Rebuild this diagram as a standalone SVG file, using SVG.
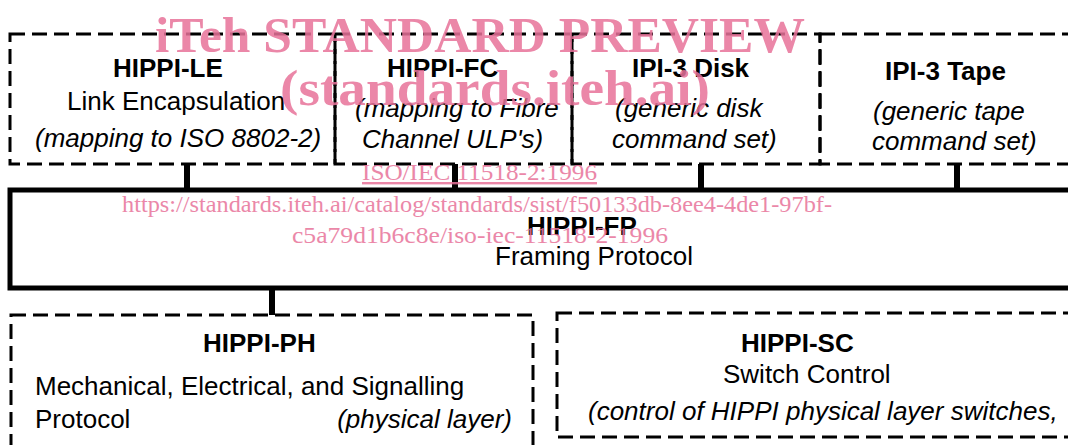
<svg xmlns="http://www.w3.org/2000/svg" width="1068" height="445" viewBox="0 0 1068 445">
<style>
.box{fill:none;stroke:#000;stroke-width:3;stroke-dasharray:15 7}
.solid{fill:none;stroke:#000;stroke-width:5}
.conn{stroke:#000;stroke-width:6}
text{font-family:"Liberation Sans",Arial,sans-serif;font-size:26px;fill:#000}
.b{font-weight:bold}
.i{font-style:italic}
text.wm{font-family:"Liberation Serif","Times New Roman",serif;fill:#e8739a;opacity:0.85}
text.big{font-size:50px;font-weight:bold}
text.sm{font-size:24px}
</style>
<rect width="1068" height="445" fill="#fff"/>
<g id="connectors">
<line class="conn" x1="187" y1="164" x2="187" y2="190"/>
<line class="conn" x1="455" y1="164" x2="455" y2="190"/>
<line class="conn" x1="701" y1="164" x2="701" y2="190"/>
<line class="conn" x1="957" y1="164" x2="957" y2="190"/>
<line class="conn" x1="272" y1="289" x2="272" y2="315" stroke-width="7"/>
</g>
<g id="hippi-le">
<rect class="box" x="10" y="34" width="325" height="130"/>
<text class="b" x="113" y="77">HIPPI-LE</text>
<text x="67" y="110">Link Encapsulation</text>
<text class="i" x="35" y="147">(mapping to ISO 8802-2)</text>
</g>
<g id="hippi-fc">
<rect class="box" x="335" y="34" width="237" height="130"/>
<text class="b" x="387" y="77">HIPPI-FC</text>
<text class="i" x="355" y="117">(mapping to Fibre</text>
<text class="i" x="362" y="148">Channel ULP's)</text>
</g>
<g id="ipi3-disk">
<rect class="box" x="572" y="34" width="248" height="130"/>
<text class="b" x="632" y="77">IPI-3 Disk</text>
<text class="i" x="615" y="117">(generic disk</text>
<text class="i" x="612" y="148">command set)</text>
</g>
<g id="ipi3-tape">
<rect class="box" x="820" y="34" width="270" height="130"/>
<text class="b" x="885" y="80">IPI-3 Tape</text>
<text class="i" x="873" y="120">(generic tape</text>
<text class="i" x="872" y="150">command set)</text>
</g>
<g id="hippi-fp">
<rect class="solid" x="10" y="190" width="1080" height="98"/>
<text class="b" x="527" y="235">HIPPI-FP</text>
<text x="495" y="265">Framing Protocol</text>
</g>
<g id="hippi-ph">
<rect class="box" x="11" y="315" width="522" height="150"/>
<text class="b" x="203" y="352">HIPPI-PH</text>
<text x="35" y="395">Mechanical, Electrical, and Signalling</text>
<text x="35" y="428">Protocol</text>
<text class="i" x="512" y="428" text-anchor="end">(physical layer)</text>
</g>
<g id="hippi-sc">
<rect class="box" x="557" y="313" width="540" height="124"/>
<text class="b" x="741" y="352">HIPPI-SC</text>
<text x="723" y="383">Switch Control</text>
<text class="i" x="588" y="420">(control of HIPPI physical layer switches,</text>
</g>
<g id="watermark">
<text class="wm big" x="155" y="52" textLength="650" lengthAdjust="spacingAndGlyphs">iTeh STANDARD PREVIEW</text>
<text class="wm big" x="280" y="105" textLength="430" lengthAdjust="spacingAndGlyphs">(standards.iteh.ai)</text>
<text class="wm sm" x="362" y="180" text-decoration="underline" textLength="235" lengthAdjust="spacingAndGlyphs">ISO/IEC 11518-2:1996</text>
<text class="wm sm" x="122" y="212" textLength="710" lengthAdjust="spacingAndGlyphs">https://standards.iteh.ai/catalog/standards/sist/f50133db-8ee4-4de1-97bf-</text>
<text class="wm sm" x="292" y="243" textLength="376" lengthAdjust="spacingAndGlyphs">c5a79d1b6c8e/iso-iec-11518-2-1996</text>
</g>
</svg>
